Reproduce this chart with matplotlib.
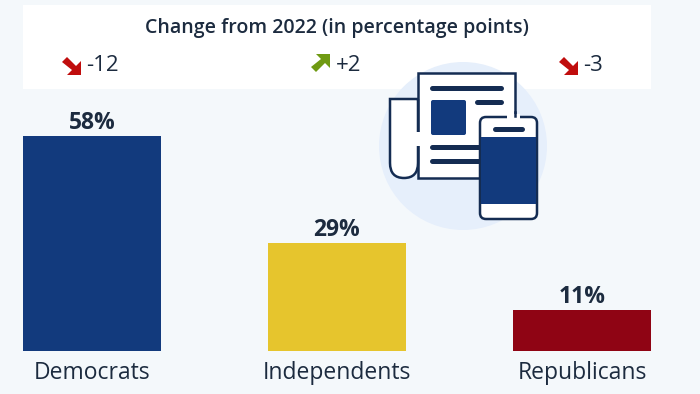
# Party bar chart with a change panel and a small newspaper / phone icon.
import matplotlib
matplotlib.use("Agg")
import matplotlib.pyplot as plt
from matplotlib.patches import Rectangle, Circle, FancyBboxPatch, Polygon, PathPatch
from matplotlib.path import Path

parties = ["Democrats", "Independents", "Republicans"]
shares = [58, 29, 11]
changes = ["-12", "+2", "-3"]
change_up = [False, True, False]
bar_colors = ["#123a7d", "#e6c52d", "#8f0414"]
panel_title = "Change from 2022 (in percentage points)"

BG = "#f4f8fb"
INK = "#1c2b3f"
NAVY = "#142c52"
BLUE = "#123a7d"

plt.rcParams["font.family"] = ["Open Sans", "DejaVu Sans"]

W, H = 700, 394
fig = plt.figure(figsize=(W / 100, H / 100), dpi=100, facecolor=BG)

# Overlay in pixel coordinates for the panel and the icon.
deco = fig.add_axes([0, 0, 1, 1], zorder=2)
deco.set_xlim(0, W)
deco.set_ylim(H, 0)
deco.axis("off")

deco.add_patch(Rectangle((23, 5), 628, 84, fc="white", ec="none", zorder=1))
deco.text(337, 28, panel_title, ha="center", va="center", fontsize=14,
          fontweight="semibold", color=INK, zorder=5)

# Arrow outline in a 19 px box, tail top left and tip bottom right.
ARROW_SHAPE = [(5, 0), (14, 9), (19, 4), (19, 18), (5, 18), (10, 13), (0, 5)]


def trend_arrow(x, up):
    if up:
        pts = [(x + px, 72 - py) for px, py in ARROW_SHAPE]
        col = "#6f9a12"
    else:
        pts = [(x + px, 57 + py) for px, py in ARROW_SHAPE]
        col = "#c00d0d"
    deco.add_patch(Polygon(pts, closed=True, fc=col, ec="none", zorder=5))


for x, label, up in zip([62, 311, 559], changes, change_up):
    trend_arrow(x, up)
    deco.text(x + 24.5, 65, label, ha="left", va="center", fontsize=16, color=INK, zorder=5)

# Icon
deco.add_patch(Circle((463, 146), 84, fc="#e6effb", ec="none", zorder=2))
deco.add_patch(Rectangle((418, 73), 97, 105, fc="white", ec=NAVY, lw=1.8, zorder=3))
fold = Path([(418, 99), (390, 99), (390, 163), (390, 178), (404, 178), (418, 178), (418, 163), (418, 99)],
            [Path.MOVETO, Path.LINETO, Path.LINETO, Path.CURVE3, Path.CURVE3, Path.CURVE3, Path.CURVE3, Path.LINETO])
deco.add_patch(PathPatch(fold, fc="white", ec=NAVY, lw=1.8, zorder=3))
deco.add_patch(Rectangle((415, 132), 6, 14, fc="white", ec="none", zorder=3.5))
deco.add_patch(FancyBboxPatch((431, 100), 35, 35, boxstyle="round,pad=0,rounding_size=2",
                              fc=BLUE, ec="none", zorder=4))
for x0, x1, y in [(432, 501, 88), (477, 501, 102), (432, 482, 147), (432, 482, 161)]:
    deco.plot([x0, x1], [y, y], color=NAVY, lw=3.6, solid_capstyle="round", zorder=4)

deco.add_patch(FancyBboxPatch((480, 117), 57, 102, boxstyle="round,pad=0,rounding_size=6",
                              fc="white", ec=NAVY, lw=1.8, zorder=5))
deco.add_patch(Rectangle((481, 137), 55, 67, fc=BLUE, ec="none", zorder=6))
deco.plot([495, 522], [129, 129], color=NAVY, lw=3.6, solid_capstyle="round", zorder=6)
# Gap in the top edge of the phone, where the sheet's edge ends.
deco.add_patch(Rectangle((507, 114), 13, 5, fc="white", ec="none", zorder=6))
deco.plot([515, 515], [112, 116], color=NAVY, lw=1.8, zorder=7)

# Bars: one unit on x is 245 px, baseline sits at 351 px.
ax = fig.add_axes([0, (H - 351) / H, 1, 351 / H], zorder=1)
ax.patch.set_alpha(0)
ax.set_xlim(-92 / 245, (W - 92) / 245)
ax.set_ylim(0, 351 / 3.707)
bars = ax.bar(range(len(parties)), shares, width=138 / 245, color=bar_colors)
ax.bar_label(bars, labels=[f"{s}%" for s in shares], padding=1, fontsize=16.5,
             fontweight="bold", color=INK)
ax.set_xticks(range(len(parties)), parties)
ax.tick_params(axis="x", length=0, pad=7, labelsize=16.5, labelcolor=INK)
ax.set_yticks([])
for spine in ax.spines.values():
    spine.set_visible(False)

fig.savefig("out.png", dpi=100, facecolor=BG)
